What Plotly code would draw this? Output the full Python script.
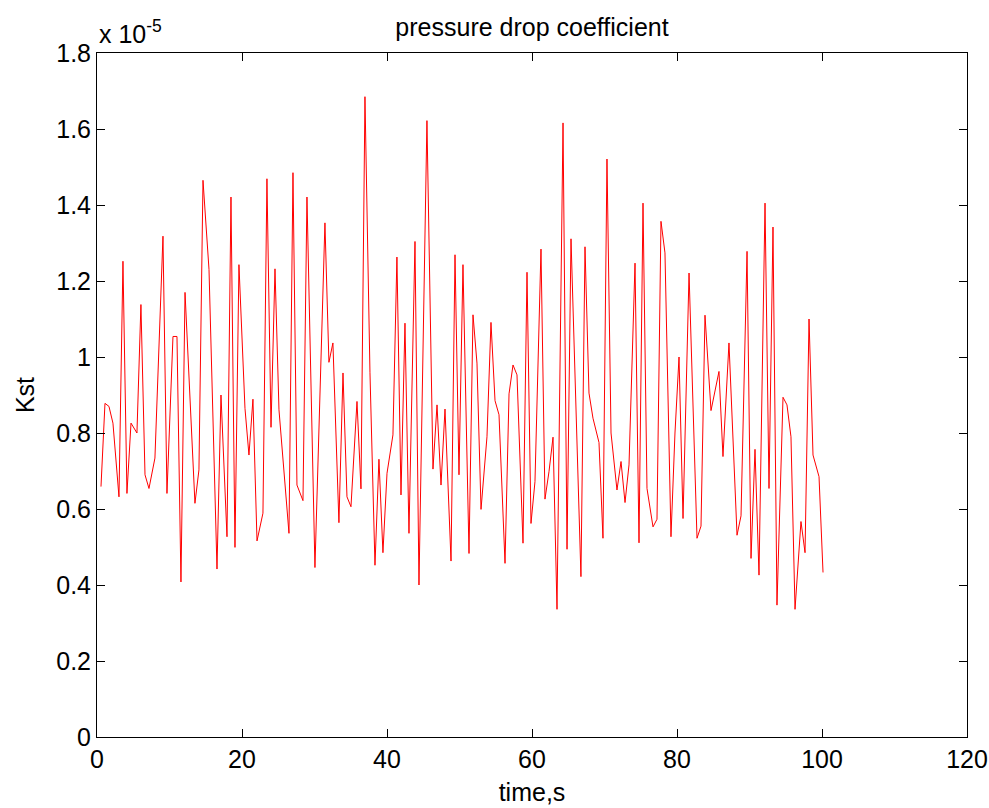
import plotly.graph_objects as go

# time (s) and pressure drop coefficient Kst (in units of 1e-5)
time_s = [0.55, 1.10, 1.65, 2.20, 3.03, 3.58, 4.13, 4.69, 5.51, 6.06, 6.62, 7.17, 7.99, 9.10, 9.65,
          10.48, 11.03, 11.58, 12.14, 13.51, 14.06, 14.62, 15.45, 16.55, 17.10, 17.93, 18.48, 19.03,
          19.58, 20.41, 20.96, 21.51, 22.07, 22.89, 23.44, 24.00, 24.55, 25.10, 26.48, 27.03, 27.58,
          28.41, 28.96, 30.06, 31.44, 31.99, 32.54, 33.37, 33.93, 34.48, 35.03, 35.86, 36.41, 36.96,
          37.65, 38.34, 38.89, 39.44, 40.00, 40.82, 41.37, 41.93, 42.48, 43.03, 43.86, 44.41, 45.51,
          46.34, 46.90, 47.45, 48.00, 48.83, 49.38, 49.93, 50.48, 51.31, 51.86, 52.41, 52.97, 53.79,
          54.34, 54.90, 55.45, 56.28, 56.83, 57.38, 57.93, 58.76, 59.31, 59.86, 60.41, 61.24, 61.79,
          62.34, 62.90, 63.45, 64.28, 64.83, 65.38, 66.75, 67.31, 67.86, 68.41, 69.24, 69.79, 70.34,
          70.90, 71.72, 72.28, 72.83, 73.38, 74.21, 74.76, 75.31, 75.86, 76.69, 77.24, 77.79, 78.34,
          79.17, 79.72, 80.28, 80.83, 81.66, 82.76, 83.31, 83.86, 84.69, 85.79, 86.34, 87.17, 88.28,
          88.83, 89.66, 90.21, 90.76, 91.31, 92.14, 92.69, 93.24, 93.79, 94.62, 95.17, 95.72, 96.28,
          97.10, 97.66, 98.21, 98.76, 99.59, 100.14]
kst_e5 = [0.659, 0.878, 0.870, 0.826, 0.632, 1.252, 0.641, 0.826, 0.800, 1.138, 0.690, 0.654, 0.734,
          1.318, 0.641, 1.054, 1.054, 0.408, 1.170, 0.615, 0.703, 1.465, 1.230, 0.442, 0.900, 0.527,
          1.421, 0.499, 1.243, 0.865, 0.742, 0.889, 0.516, 0.589, 1.469, 0.815, 1.232, 0.861, 0.536,
          1.485, 0.663, 0.622, 1.421, 0.446, 1.353, 0.986, 1.037, 0.564, 0.958, 0.632, 0.606, 0.883,
          0.653, 1.685, 0.960, 0.452, 0.731, 0.485, 0.694, 0.795, 1.263, 0.637, 1.089, 0.536, 1.304,
          0.400, 1.622, 0.705, 0.874, 0.663, 0.863, 0.463, 1.269, 0.690, 1.243, 0.483, 1.111, 0.984,
          0.599, 0.790, 1.091, 0.885, 0.848, 0.457, 0.903, 0.979, 0.953, 0.510, 1.223, 0.562, 0.672,
          1.284, 0.626, 0.698, 0.789, 0.336, 1.616, 0.494, 1.311, 0.422, 1.290, 0.905, 0.839, 0.775,
          0.523, 1.521, 0.800, 0.650, 0.725, 0.617, 0.716, 1.247, 0.511, 1.405, 0.654, 0.553, 0.573,
          1.357, 1.274, 0.527, 0.800, 1.000, 0.575, 1.221, 0.523, 0.555, 1.110, 0.859, 0.962, 0.738,
          1.037, 0.531, 0.582, 1.278, 0.470, 0.757, 0.426, 1.405, 0.654, 1.342, 0.347, 0.894, 0.874,
          0.790, 0.336, 0.567, 0.485, 1.100, 0.742, 0.685, 0.433]
scale = 1e-5

x_ticks = [0, 20, 40, 60, 80, 100, 120]
y_ticks = [0, 0.2, 0.4, 0.6, 0.8, 1.0, 1.2, 1.4, 1.6, 1.8]
y_tick_labels = ["0", "0.2", "0.4", "0.6", "0.8", "1", "1.2", "1.4", "1.6", "1.8"]

FONT = "Liberation Sans, Arial, sans-serif"
FS = 25

fig = go.Figure()
fig.add_trace(go.Scatter(
    x=time_s, y=[v * scale for v in kst_e5], mode="lines",
    line=dict(color="#ff0000", width=1), showlegend=False, hoverinfo="x+y"))

axis_common = dict(
    showline=True, linecolor="black", linewidth=1, mirror="ticks",
    ticks="inside", ticklen=8, tickwidth=1, tickcolor="black",
    showgrid=False, zeroline=False,
    tickfont=dict(family=FONT, size=FS, color="black"),
)

fig.update_layout(
    width=989, height=808,
    margin=dict(l=97, r=22, t=53, b=71, autoexpand=False),
    paper_bgcolor="white", plot_bgcolor="white",
    font=dict(family=FONT, size=FS, color="black"),
    title=dict(text="pressure drop coefficient", x=(97 + 967) / 2 / 989, xanchor="center",
               y=1 - 27 / 808, yanchor="middle", font=dict(family=FONT, size=FS, color="black")),
    xaxis=dict(range=[0, 120], tickvals=x_ticks, ticktext=[str(v) for v in x_ticks],
               title=dict(text="time,s", standoff=11, font=dict(family=FONT, size=FS, color="black")),
               **axis_common),
    yaxis=dict(range=[0, 1.8 * scale], tickvals=[v * scale for v in y_ticks], ticktext=y_tick_labels,
               title=dict(text="Kst", standoff=14, font=dict(family=FONT, size=FS, color="black")),
               **axis_common),
    annotations=[dict(text="x 10<sup>-5</sup>", xref="paper", yref="paper", x=0, y=1.004,
                      xanchor="left", yanchor="bottom", showarrow=False,
                      font=dict(family=FONT, size=FS, color="black"))],
)

fig.write_html("out.html")
